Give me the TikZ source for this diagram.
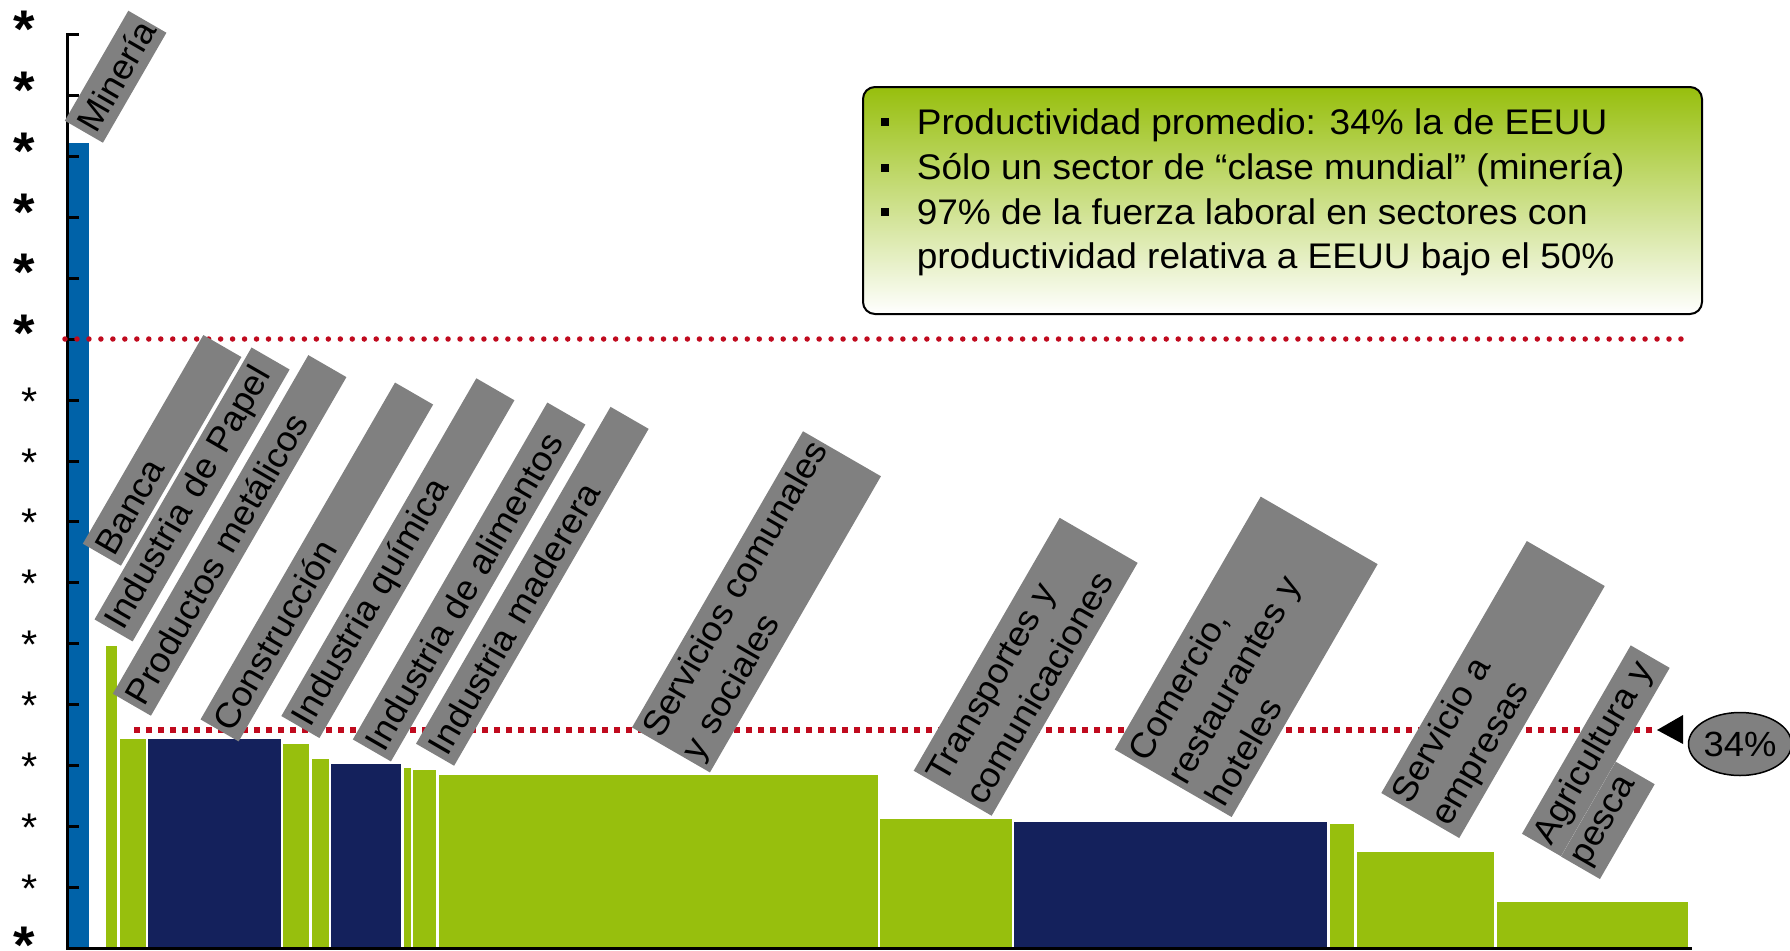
\documentclass[tikz,border=0pt]{standalone}
\usepackage{fontspec}
\setmainfont{Liberation Sans}[FakeStretch=1.04]
\usetikzlibrary{shapes.geometric}
\definecolor{mblue}{RGB}{0,98,168}
\definecolor{mgreen}{RGB}{151,191,13}
\definecolor{mnavy}{RGB}{20,33,92}
\definecolor{mgray}{RGB}{128,128,128}
\definecolor{mred}{RGB}{192,10,30}
\newcommand{\bsq}{\rule[8pt]{8pt}{8pt}\hspace{27.6pt}}
\tikzset{
  lab/.style={fill=mgray, rotate=60, anchor=south west, inner xsep=4pt, inner ysep=0pt,
              align=left, font=\fontsize{35}{45}\selectfont},
  bigast/.style={anchor=base west, inner sep=0pt, font=\bfseries\fontsize{53}{53}\selectfont},
  smallast/.style={anchor=base west, inner sep=0pt, font=\fontsize{40}{40}\selectfont},
  bt/.style={anchor=base west, inner sep=0pt, font=\fontsize{35.6}{45}\selectfont},
  axisline/.style={line width=3pt, black},
  reddots/.style={mred, line width=5.5pt, line cap=round, dash pattern=on 0pt off 11.97pt},
  reddash/.style={mred, line width=5.5pt, dash pattern=on 5.5pt off 6.5pt}
}
\begin{document}
\begin{tikzpicture}[x=1pt,y=-1pt]
\useasboundingbox (0,0) rectangle (1790,950);
% bars
\foreach \a/\b/\t/\c in {68/89/143/mblue, 106/117/646/mgreen, 120/146/739/mgreen,
  148/281/739/mnavy, 283/309/744/mgreen, 312/329/759/mgreen, 331/401/764/mnavy,
  404/411/768/mgreen, 413/436/770/mgreen, 439/878/775/mgreen, 880/1012/819/mgreen,
  1014/1327/822/mnavy, 1330/1354/824/mgreen, 1357/1494/852/mgreen, 1497/1688/902/mgreen}
  \fill[\c] (\a,947) rectangle (\b,\t);
% axis
\draw[axisline, line cap=rect] (67,35) -- (67,948) -- (1690,948);
\foreach \k in {0,...,15} \draw[axisline] (67,{35+60.867*\k}) -- (79,{35+60.867*\k});
% axis labels
\foreach \k in {0,...,5} \node[bigast] (ab\k) at (12.8,{35+60.867*\k+12.5}) {*};
\node[bigast] (ab15) at (12.8,931) {\raisebox{-32pt}[0pt][0pt]{*}};
\foreach \k in {6,...,14} \node[smallast] (as\k) at (21.4,{35+60.867*\k+15}) {*};
% reference lines
\coordinate (t0) at (65,339);
\coordinate (t1) at (1686,339);
\draw[reddots] (t0) -- (t1);
\coordinate (d0) at (134,730);
\coordinate (tip) at (1657,730);
\draw[reddash] (d0) -- (tip);
% sector labels
\node[lab, minimum height=44pt, text width=119pt] (min) at (103,143) {Minería};
\node[lab, minimum height=44pt, text width=233pt] (ban) at (121,566) {Banca};
\node[lab, minimum height=44pt, text width=306pt] (pap) at (132.7,641.7) {\mbox{Industria de Papel}};
\node[lab, minimum height=44pt, text width=383pt] (met) at (151,716) {Productos metálicos};
\node[lab, minimum height=44pt, text width=381pt] (con) at (238.7,741.7) {Construcción};
\node[lab, minimum height=44pt, text width=382pt] (qui) at (319.5,738.3) {Industria química};
\node[lab, minimum height=44pt, text width=381pt] (ali) at (391,761.7) {Industria de alimentos};
\node[lab, minimum height=44pt, text width=381pt] (mad) at (454.2,766) {Industria maderera};
\node[lab, minimum height=90pt, text width=334pt] (ser) at (710,772.7) {\mbox{Servicios comunales}\\y sociales};
\node[lab, minimum height=90pt, text width=284pt] (tra) at (991.7,816) {Transportes y\\comunicaciones};
\node[lab, minimum height=135pt, text width=284pt] (com) at (1231.7,817.3) {Comercio,\\restaurantes y\\hoteles};
\node[lab, minimum height=90pt, text width=283pt] (emp) at (1459.3,838.3) {Servicio a\\empresas};
\node[lab, minimum height=45pt, text width=209.5pt] (agr) at (1561,856.5) {\mbox{Agricultura y}};
\node[lab, minimum height=45pt, text width=101.5pt] (pes) at (1600,879.3) {pesca};
% summary box
\node[draw, line width=2pt, rounded corners=12pt, top color=mgreen, bottom color=white,
      minimum width=839pt, minimum height=227pt, anchor=north west, inner sep=0pt] (note) at (862,86) {};
\node[bt] (l1) at (881,134) {\bsq Productividad promedio: 34\% la de EEUU};
\node[bt] (l2) at (881,179.5) {\bsq Sólo un sector de “clase mundial” (minería)};
\node[bt] (l3) at (881,224) {\bsq 97\% de la fuerza laboral en sectores con};
\node[bt] (l4) at (916.6,268.5) {productividad relativa a EEUU bajo el 50\%};
% 34% marker
\fill[black] (tip) -- (1683,715) -- (1683,744) -- cycle;
\node[ellipse, draw, line width=1.5pt, fill=mgray, minimum width=86pt, minimum height=63pt,
      inner sep=0pt, font=\fontsize{35}{35}\selectfont] (p34) at (1740,744) {34\%};
\end{tikzpicture}
\end{document}
